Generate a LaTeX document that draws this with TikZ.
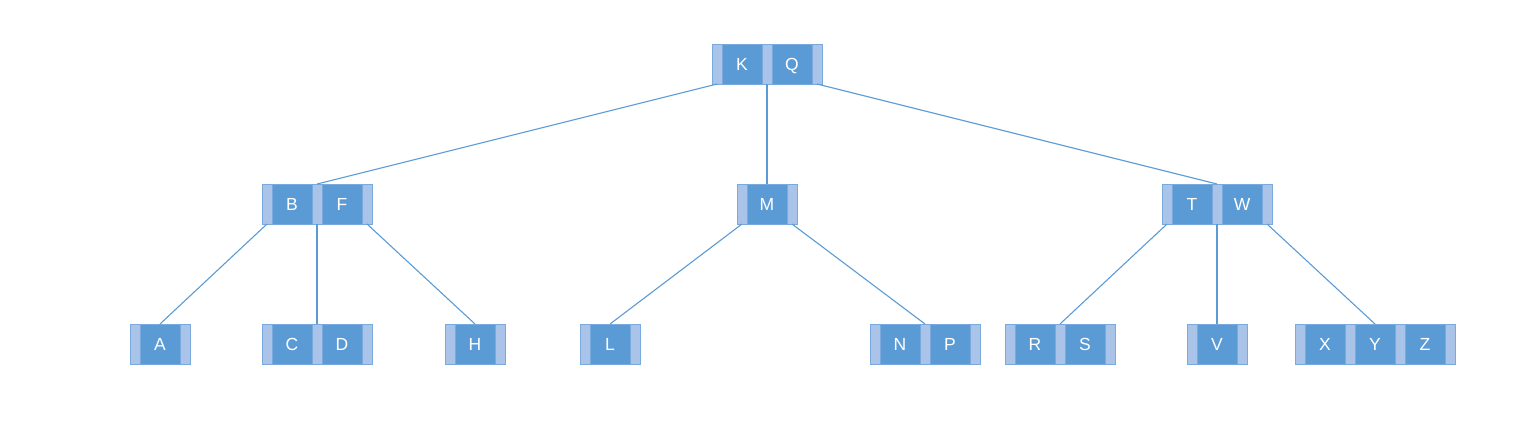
\documentclass[tikz,border=0pt]{standalone}
\usepackage{fontspec}
\setmainfont{Liberation Sans}
\definecolor{keyblue}{HTML}{5B9BD5}
\definecolor{ptrblue}{HTML}{A9C4E8}
\definecolor{edgeblue}{HTML}{5B9BD5}
\definecolor{rimblue}{HTML}{7AAADD}
\tikzset{
  cell/.style={draw=rimblue, line width=1pt, inner sep=0pt, outer sep=0pt, minimum height=40pt},
  ptr/.style={cell, fill=ptrblue, minimum width=10pt},
  keycell/.style={cell, fill=keyblue, minimum width=40pt, text=white, text height=12.6pt, text depth=0pt, font=\fontsize{17.5}{20}\selectfont},
  edge/.style={draw=edgeblue, line width=1.1pt},
}
% #1 name, #2 left x, #3 centre y, #4 number of keys, #5 keys
\newcommand\btnode[5]{%
  \foreach \k [count=\i] in {#5} {
    \pgfmathsetmacro\xp{#2+(\i-1)*50}
    \node[ptr] (#1-p\i) at (\xp+5,#3) {};
    \node[keycell] (#1-k\i) at (\xp+30,#3) {\k};
  }
  \pgfmathtruncatemacro\lastp{#4+1}
  \pgfmathsetmacro\xl{#2+#4*50+5}
  \node[ptr] (#1-p\lastp) at (\xl,#3) {};
  \pgfmathsetmacro\xc{#2+(#4*50+10)/2}
  \coordinate (#1-top) at (\xc,#3-20);
}
\begin{document}
\begin{tikzpicture}[x=1pt,y=-1pt]
\useasboundingbox (0,0) rectangle (1535,440);
% level 0
\btnode{KQ}{712}{64}{2}{K,Q}
% level 1
\btnode{BF}{262}{204}{2}{B,F}
\btnode{M}{737}{204}{1}{M}
\btnode{TW}{1162}{204}{2}{T,W}
% level 2
\btnode{A}{130}{344}{1}{A}
\btnode{CD}{262}{344}{2}{C,D}
\btnode{H}{445}{344}{1}{H}
\btnode{L}{580}{344}{1}{L}
\btnode{NP}{870}{344}{2}{N,P}
\btnode{RS}{1005}{344}{2}{R,S}
\btnode{V}{1187}{344}{1}{V}
\btnode{XYZ}{1295}{344}{3}{X,Y,Z}
% edges
\draw[edge] (KQ-p1.south) -- (BF-top);
\draw[edge] (KQ-p2.south) -- (M-top);
\draw[edge] (KQ-p3.south) -- (TW-top);
\draw[edge] (BF-p1.south) -- (A-top);
\draw[edge] (BF-p2.south) -- (CD-top);
\draw[edge] (BF-p3.south) -- (H-top);
\draw[edge] (M-p1.south) -- (L-top);
\draw[edge] (M-p2.south) -- (NP-top);
\draw[edge] (TW-p1.south) -- (RS-top);
\draw[edge] (TW-p2.south) -- (V-top);
\draw[edge] (TW-p3.south) -- (XYZ-top);
\end{tikzpicture}
\end{document}
